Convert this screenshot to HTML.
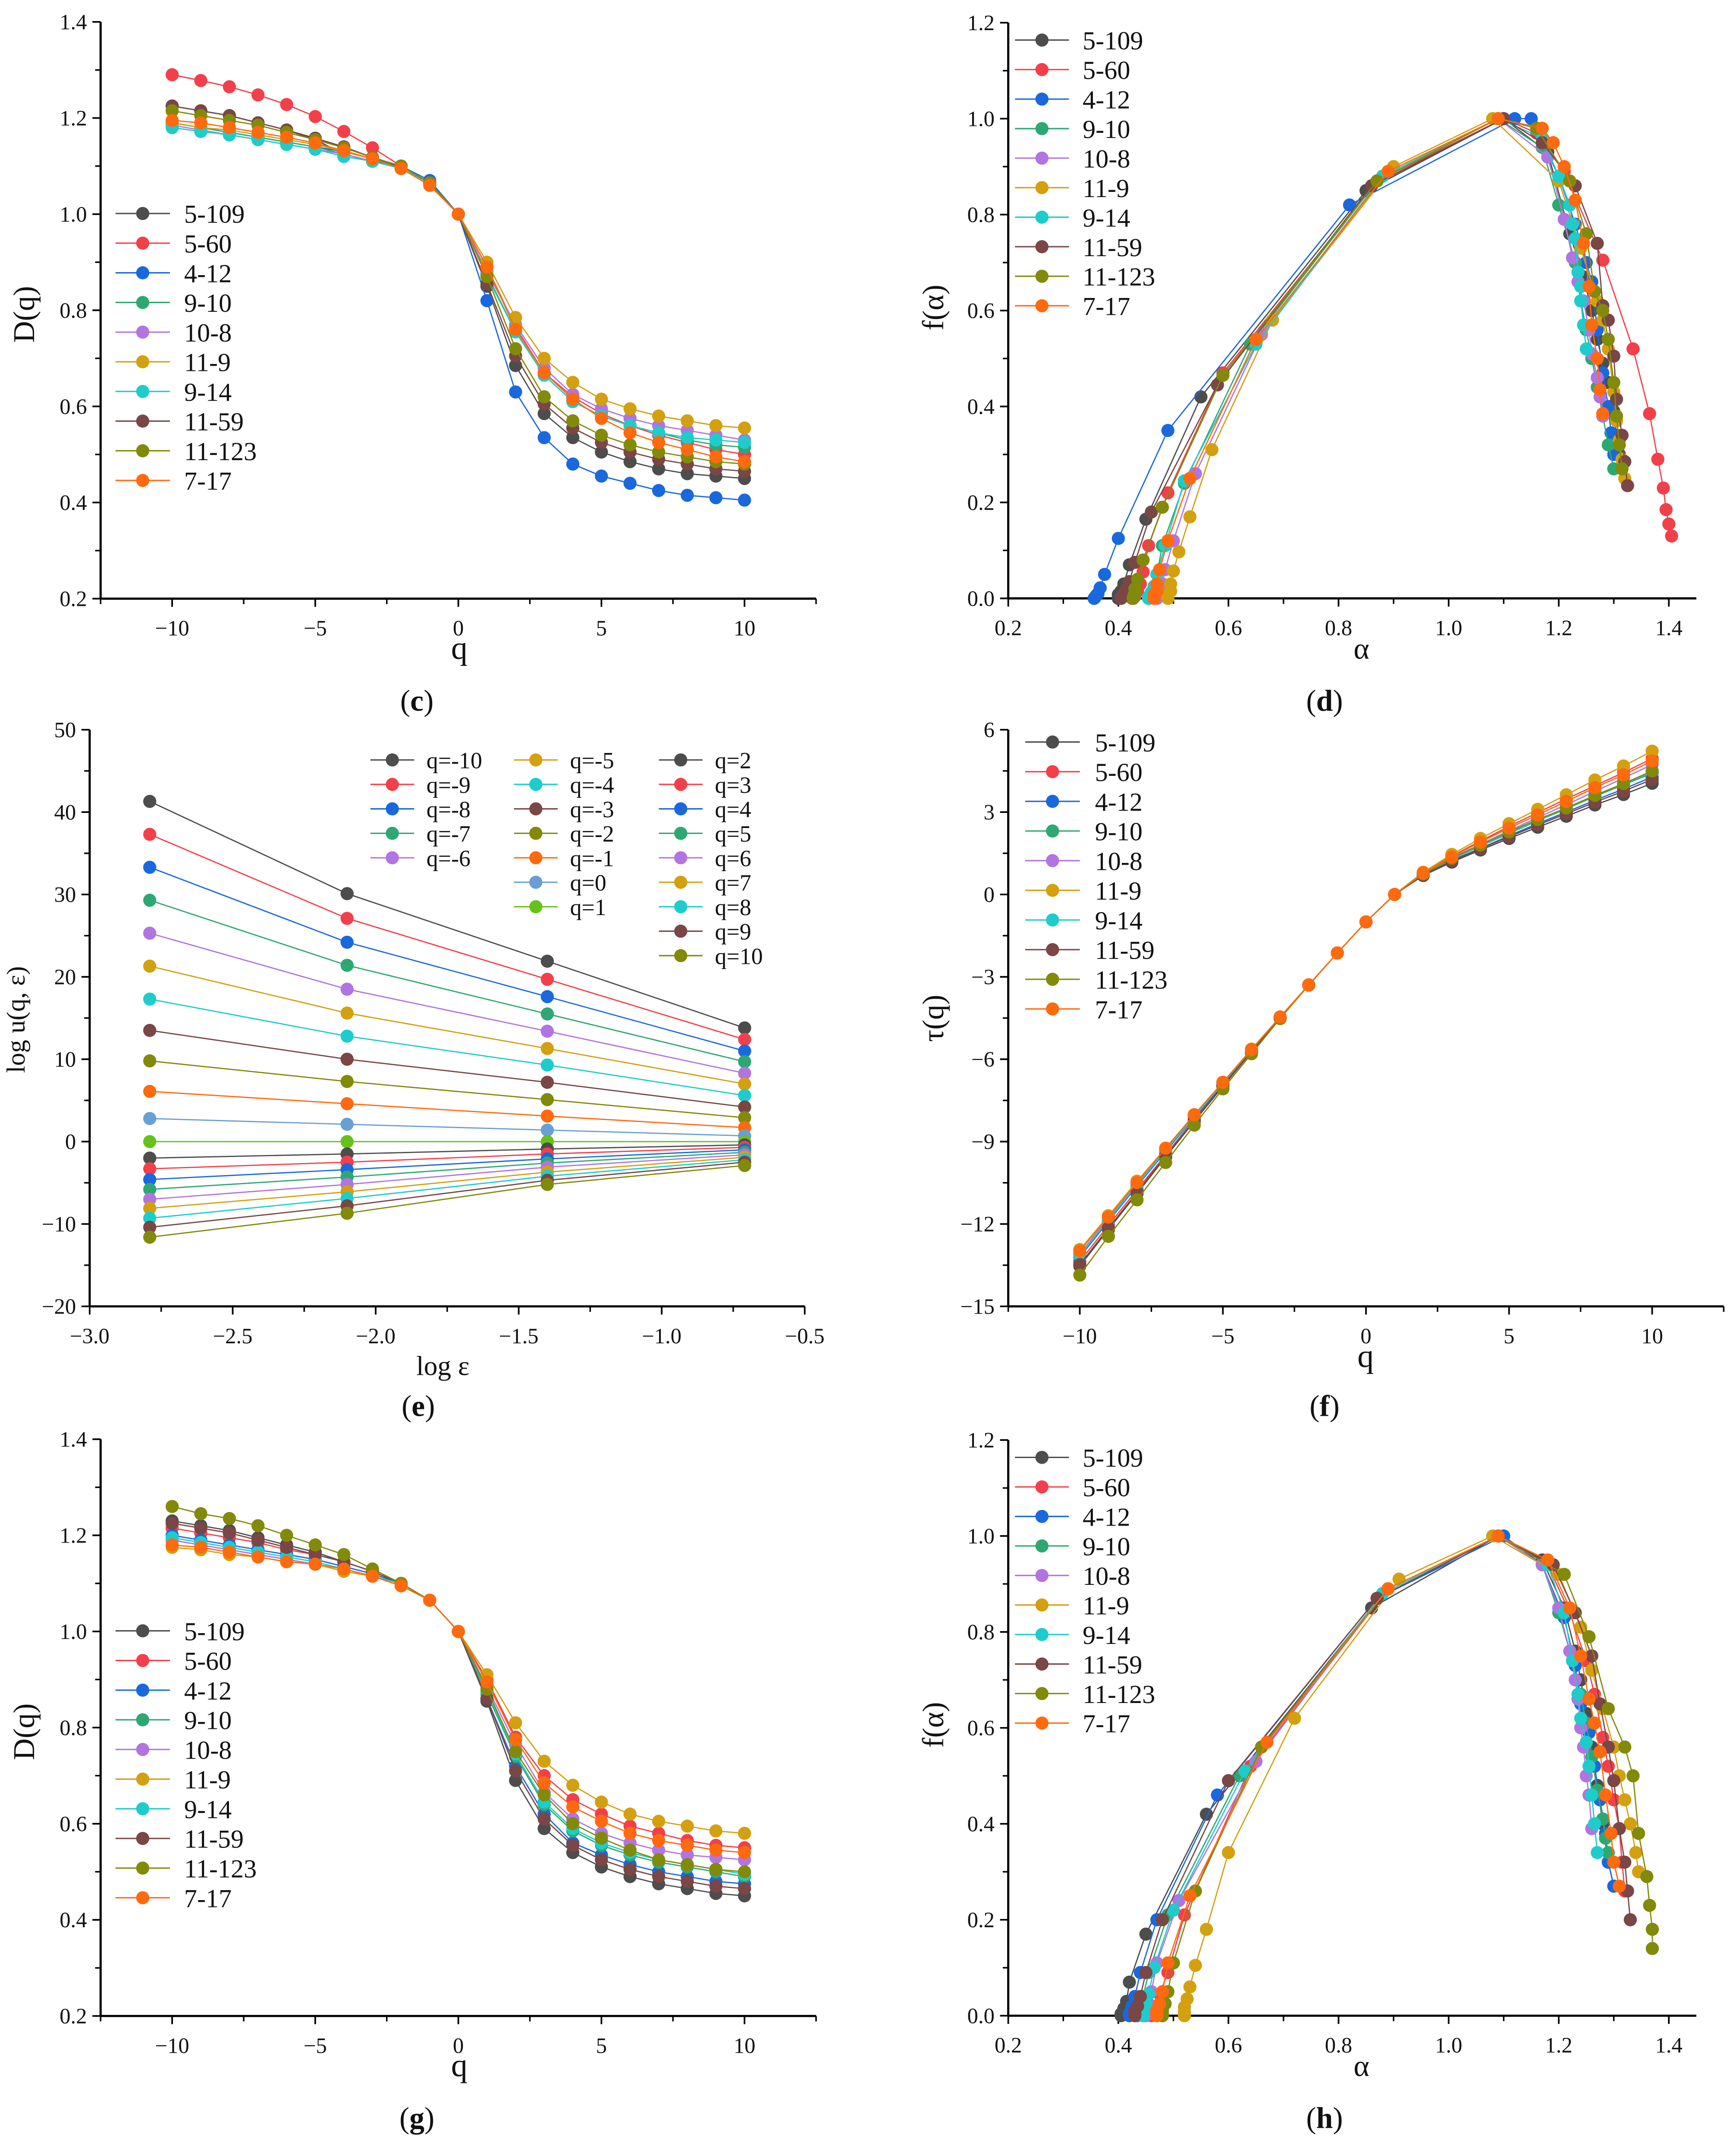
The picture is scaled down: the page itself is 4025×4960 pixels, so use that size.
<!DOCTYPE html>
<html>
<head>
<meta charset="utf-8">
<style>
html,body{margin:0;padding:0;background:#fff;}
svg{display:block;}
text{font-family:"Liberation Serif","Noto Serif CJK SC",serif;fill:#111;}
</style>
</head>
<body>
<svg id="fig" xmlns="http://www.w3.org/2000/svg" width="4025" height="4960" viewBox="0 0 1270 1565"></svg>
<script>
// ---------- DATA ----------
const seriesNames = ["5-109","5-60","4-12","9-10","10-8","11-9","9-14","11-59","11-123","7-17"];
const seriesColors = ["#4d4d4d","#f2404a","#1a68dd","#2ea872","#b274e0","#d3a010","#1ecccc","#7a4646","#828a0a","#ff6a0e"];
const qVals = [-10,-9,-8,-7,-6,-5,-4,-3,-2,-1,0,1,2,3,4,5,6,7,8,9,10];

// Panel (c): D(q)
const dqC = [
 [1.225,1.215,1.205,1.19,1.175,1.155,1.125,1.11,1.10,1.065,1.0,0.85,0.685,0.585,0.535,0.505,0.485,0.47,0.46,0.455,0.45],
 [1.29,1.278,1.265,1.248,1.228,1.203,1.172,1.138,1.10,1.065,1.0,0.89,0.765,0.67,0.62,0.585,0.56,0.54,0.525,0.51,0.50],
 [1.19,1.18,1.17,1.16,1.15,1.14,1.13,1.115,1.10,1.07,1.0,0.82,0.63,0.535,0.48,0.455,0.44,0.425,0.415,0.41,0.405],
 [1.19,1.18,1.17,1.16,1.15,1.14,1.125,1.11,1.095,1.065,1.0,0.875,0.755,0.665,0.61,0.58,0.56,0.545,0.53,0.52,0.515],
 [1.185,1.175,1.165,1.155,1.145,1.135,1.125,1.11,1.095,1.065,1.0,0.88,0.77,0.68,0.625,0.595,0.575,0.56,0.55,0.54,0.53],
 [1.19,1.18,1.175,1.165,1.155,1.145,1.13,1.115,1.095,1.06,1.0,0.90,0.785,0.70,0.65,0.615,0.595,0.58,0.57,0.56,0.555],
 [1.18,1.172,1.165,1.155,1.145,1.135,1.12,1.11,1.095,1.065,1.0,0.87,0.755,0.665,0.61,0.58,0.56,0.545,0.535,0.53,0.525],
 [1.225,1.215,1.205,1.19,1.175,1.158,1.14,1.118,1.10,1.065,1.0,0.855,0.705,0.605,0.555,0.525,0.505,0.49,0.48,0.47,0.465],
 [1.215,1.205,1.195,1.185,1.17,1.155,1.138,1.118,1.10,1.065,1.0,0.87,0.72,0.62,0.57,0.54,0.52,0.505,0.495,0.485,0.48],
 [1.195,1.19,1.18,1.17,1.16,1.148,1.132,1.115,1.095,1.06,1.0,0.89,0.76,0.67,0.615,0.575,0.545,0.525,0.51,0.495,0.485]
];
// Panel (g): D(q)
const dqG = [
 [1.23,1.22,1.21,1.195,1.18,1.165,1.145,1.125,1.10,1.065,1.0,0.855,0.69,0.59,0.54,0.51,0.49,0.475,0.465,0.455,0.45],
 [1.215,1.205,1.195,1.185,1.17,1.16,1.145,1.125,1.10,1.065,1.0,0.90,0.78,0.70,0.65,0.62,0.595,0.58,0.565,0.555,0.55],
 [1.20,1.19,1.18,1.17,1.16,1.15,1.135,1.12,1.10,1.065,1.0,0.86,0.72,0.62,0.56,0.535,0.515,0.50,0.49,0.48,0.475],
 [1.19,1.18,1.17,1.16,1.15,1.14,1.13,1.115,1.10,1.065,1.0,0.87,0.74,0.64,0.585,0.555,0.535,0.52,0.51,0.50,0.49],
 [1.19,1.18,1.17,1.16,1.15,1.14,1.13,1.115,1.10,1.065,1.0,0.885,0.765,0.665,0.61,0.58,0.56,0.545,0.535,0.53,0.525],
 [1.175,1.17,1.16,1.155,1.145,1.14,1.125,1.115,1.095,1.065,1.0,0.91,0.81,0.73,0.68,0.645,0.62,0.605,0.595,0.585,0.58],
 [1.195,1.185,1.175,1.165,1.155,1.145,1.13,1.115,1.10,1.065,1.0,0.875,0.745,0.645,0.59,0.56,0.54,0.525,0.515,0.505,0.495],
 [1.225,1.215,1.205,1.19,1.175,1.16,1.145,1.125,1.10,1.065,1.0,0.86,0.71,0.61,0.555,0.525,0.505,0.49,0.48,0.47,0.465],
 [1.26,1.245,1.235,1.22,1.20,1.18,1.16,1.13,1.10,1.065,1.0,0.88,0.75,0.66,0.60,0.57,0.545,0.525,0.515,0.505,0.50],
 [1.18,1.175,1.165,1.155,1.145,1.14,1.13,1.115,1.095,1.065,1.0,0.895,0.775,0.685,0.635,0.605,0.58,0.565,0.555,0.545,0.54]
];
// Panel (f): tau(q)
const tauF = [
 [-13.53,-12.2,-10.89,-9.56,-8.26,-6.99,-5.73,-4.5,-3.3,-2.13,-1,0,0.69,1.18,1.62,2.04,2.45,2.85,3.26,3.64,4.05],
 [-13.37,-12.05,-10.76,-9.48,-8.19,-6.96,-5.73,-4.5,-3.3,-2.13,-1,0,0.78,1.4,1.95,2.48,2.98,3.48,3.96,4.44,4.95],
 [-13.2,-11.9,-10.62,-9.36,-8.12,-6.9,-5.68,-4.48,-3.3,-2.13,-1,0,0.72,1.24,1.68,2.14,2.58,3.0,3.43,3.84,4.28],
 [-13.09,-11.8,-10.53,-9.28,-8.05,-6.84,-5.65,-4.46,-3.3,-2.13,-1,0,0.74,1.28,1.76,2.22,2.68,3.12,3.57,4.0,4.41],
 [-13.09,-11.8,-10.53,-9.28,-8.05,-6.84,-5.65,-4.46,-3.3,-2.13,-1,0,0.77,1.33,1.83,2.32,2.8,3.27,3.75,4.24,4.73],
 [-12.93,-11.7,-10.44,-9.24,-8.02,-6.84,-5.63,-4.46,-3.29,-2.13,-1,0,0.81,1.46,2.04,2.58,3.1,3.63,4.17,4.68,5.22],
 [-13.15,-11.85,-10.58,-9.32,-8.09,-6.87,-5.65,-4.46,-3.3,-2.13,-1,0,0.75,1.29,1.77,2.24,2.7,3.15,3.61,4.04,4.46],
 [-13.48,-12.15,-10.85,-9.52,-8.23,-6.96,-5.73,-4.5,-3.3,-2.13,-1,0,0.71,1.22,1.67,2.1,2.53,2.94,3.36,3.76,4.19],
 [-13.86,-12.45,-11.12,-9.76,-8.4,-7.08,-5.8,-4.52,-3.3,-2.13,-1,0,0.75,1.32,1.8,2.28,2.73,3.15,3.61,4.04,4.5],
 [-12.98,-11.75,-10.49,-9.24,-8.02,-6.84,-5.65,-4.46,-3.29,-2.13,-1,0,0.78,1.37,1.91,2.42,2.9,3.39,3.89,4.36,4.86]
];
// Panel (d): alpha and f(alpha)
const alphaD = [
 [1.31,1.305,1.30,1.29,1.28,1.27,1.26,1.245,1.22,1.18,1.10,0.85,0.55,0.45,0.42,0.41,0.405,0.40,0.40,0.40,0.40],
 [1.405,1.40,1.395,1.39,1.38,1.365,1.335,1.28,1.21,1.16,1.10,0.87,0.59,0.49,0.455,0.445,0.44,0.435,0.43,0.43,0.425],
 [1.30,1.295,1.29,1.28,1.27,1.26,1.25,1.23,1.20,1.15,1.12,0.82,0.49,0.40,0.375,0.367,0.363,0.36,0.358,0.357,0.356],
 [1.30,1.29,1.28,1.27,1.26,1.25,1.24,1.23,1.20,1.17,1.09,0.87,0.64,0.52,0.48,0.47,0.465,0.46,0.46,0.455,0.455],
 [1.28,1.275,1.27,1.26,1.255,1.245,1.235,1.225,1.21,1.18,1.09,0.88,0.66,0.54,0.50,0.485,0.48,0.475,0.475,0.47,0.47],
 [1.32,1.315,1.31,1.305,1.30,1.29,1.28,1.27,1.24,1.20,1.08,0.90,0.68,0.57,0.53,0.51,0.50,0.495,0.495,0.49,0.49],
 [1.25,1.245,1.24,1.24,1.235,1.23,1.225,1.22,1.20,1.17,1.09,0.88,0.65,0.52,0.485,0.47,0.465,0.46,0.46,0.455,0.455],
 [1.325,1.32,1.315,1.305,1.30,1.29,1.28,1.27,1.23,1.17,1.10,0.86,0.58,0.46,0.43,0.42,0.415,0.41,0.41,0.405,0.405],
 [1.315,1.31,1.305,1.30,1.29,1.28,1.265,1.25,1.22,1.16,1.09,0.87,0.59,0.48,0.445,0.435,0.43,0.43,0.428,0.428,0.427],
 [1.28,1.275,1.27,1.26,1.255,1.245,1.23,1.21,1.19,1.17,1.09,0.89,0.65,0.53,0.49,0.475,0.47,0.47,0.465,0.465,0.465]
];
const fAlphaD = [
 [0.30,0.34,0.39,0.45,0.49,0.54,0.60,0.67,0.76,0.93,1.0,0.85,0.42,0.165,0.07,0.03,0.015,0.008,0.004,0.002,0],
 [0.13,0.155,0.185,0.23,0.29,0.385,0.52,0.705,0.89,0.97,1.0,0.87,0.47,0.22,0.11,0.055,0.03,0.015,0.008,0.004,0],
 [0.30,0.345,0.40,0.47,0.56,0.66,0.70,0.78,0.88,1.0,1.0,0.82,0.35,0.125,0.05,0.022,0.01,0.006,0.003,0.001,0],
 [0.27,0.32,0.38,0.44,0.50,0.56,0.62,0.70,0.82,0.94,1.0,0.87,0.53,0.24,0.11,0.05,0.025,0.012,0.006,0.003,0],
 [0.38,0.42,0.46,0.51,0.56,0.62,0.66,0.71,0.79,0.92,1.0,0.88,0.55,0.26,0.12,0.06,0.03,0.015,0.008,0.004,0],
 [0.25,0.29,0.33,0.37,0.43,0.52,0.58,0.62,0.73,0.87,1.0,0.90,0.58,0.31,0.17,0.097,0.057,0.03,0.015,0.007,0],
 [0.52,0.57,0.62,0.65,0.68,0.75,0.78,0.82,0.88,0.96,1.0,0.88,0.53,0.245,0.11,0.05,0.025,0.012,0.006,0.003,0],
 [0.235,0.285,0.34,0.415,0.505,0.58,0.61,0.74,0.86,0.95,1.0,0.86,0.445,0.18,0.075,0.035,0.02,0.01,0.005,0.002,0],
 [0.27,0.32,0.38,0.45,0.54,0.60,0.64,0.76,0.87,0.98,1.0,0.87,0.465,0.19,0.08,0.04,0.02,0.01,0.005,0.002,0],
 [0.385,0.435,0.50,0.57,0.65,0.74,0.83,0.90,0.95,0.98,1.0,0.89,0.54,0.25,0.12,0.06,0.03,0.015,0.008,0.004,0]
];
// Panel (h): alpha and f(alpha)
const alphaH = [
 [1.30,1.29,1.28,1.27,1.26,1.25,1.24,1.23,1.21,1.17,1.09,0.86,0.56,0.45,0.42,0.415,0.41,0.41,0.405,0.405,0.405],
 [1.32,1.315,1.31,1.30,1.29,1.28,1.265,1.25,1.22,1.18,1.09,0.89,0.64,0.52,0.49,0.475,0.47,0.465,0.46,0.46,0.46],
 [1.30,1.29,1.285,1.275,1.265,1.255,1.24,1.23,1.21,1.17,1.10,0.87,0.58,0.47,0.44,0.43,0.425,0.425,0.42,0.42,0.42],
 [1.29,1.285,1.28,1.27,1.26,1.25,1.24,1.225,1.20,1.17,1.09,0.88,0.62,0.49,0.455,0.445,0.44,0.435,0.435,0.435,0.435],
 [1.26,1.255,1.25,1.245,1.24,1.235,1.23,1.22,1.20,1.17,1.09,0.88,0.65,0.51,0.47,0.46,0.455,0.45,0.45,0.45,0.45],
 [1.345,1.34,1.33,1.32,1.31,1.30,1.28,1.26,1.24,1.20,1.08,0.91,0.72,0.60,0.56,0.54,0.53,0.525,0.52,0.52,0.52],
 [1.27,1.265,1.26,1.255,1.25,1.24,1.235,1.225,1.21,1.18,1.09,0.88,0.63,0.50,0.465,0.455,0.45,0.445,0.445,0.445,0.445],
 [1.33,1.325,1.32,1.31,1.30,1.29,1.275,1.26,1.23,1.19,1.09,0.87,0.60,0.48,0.45,0.44,0.435,0.43,0.43,0.43,0.43],
 [1.37,1.37,1.365,1.36,1.345,1.335,1.32,1.29,1.255,1.21,1.09,0.89,0.66,0.54,0.50,0.49,0.485,0.48,0.48,0.48,0.48],
 [1.31,1.30,1.295,1.285,1.275,1.265,1.255,1.24,1.22,1.18,1.09,0.89,0.67,0.53,0.49,0.48,0.475,0.47,0.47,0.47,0.47]
];
const fAlphaH = [
 [0.27,0.32,0.40,0.48,0.56,0.63,0.70,0.76,0.85,0.95,1.0,0.85,0.42,0.17,0.07,0.03,0.015,0.008,0.004,0.002,0],
 [0.26,0.32,0.39,0.45,0.52,0.58,0.67,0.74,0.84,0.94,1.0,0.89,0.52,0.21,0.09,0.045,0.02,0.01,0.005,0.002,0],
 [0.27,0.32,0.38,0.45,0.52,0.59,0.65,0.73,0.83,0.94,1.0,0.87,0.46,0.2,0.09,0.04,0.02,0.01,0.005,0.002,0],
 [0.34,0.37,0.41,0.47,0.54,0.61,0.67,0.74,0.84,0.94,1.0,0.88,0.50,0.21,0.09,0.04,0.02,0.01,0.005,0.002,0],
 [0.39,0.46,0.50,0.56,0.60,0.66,0.70,0.76,0.85,0.94,1.0,0.88,0.53,0.24,0.11,0.05,0.025,0.012,0.006,0.003,0],
 [0.30,0.34,0.40,0.45,0.50,0.56,0.64,0.72,0.81,0.92,1.0,0.91,0.62,0.34,0.18,0.105,0.06,0.035,0.018,0.008,0],
 [0.34,0.40,0.46,0.52,0.57,0.62,0.67,0.74,0.84,0.94,1.0,0.88,0.51,0.22,0.1,0.045,0.022,0.011,0.005,0.002,0],
 [0.20,0.26,0.32,0.39,0.49,0.56,0.65,0.75,0.84,0.94,1.0,0.87,0.49,0.2,0.09,0.04,0.02,0.01,0.005,0.002,0],
 [0.14,0.18,0.23,0.29,0.38,0.50,0.56,0.64,0.79,0.92,1.0,0.89,0.56,0.26,0.11,0.05,0.025,0.012,0.006,0.003,0],
 [0.27,0.32,0.38,0.46,0.55,0.61,0.66,0.75,0.85,0.95,1.0,0.89,0.57,0.25,0.11,0.05,0.025,0.012,0.006,0.003,0]
];
// Panel (e): log u(q, eps)
const logEps = [-2.79,-2.10,-1.40,-0.71];
const eQLabels = ["q=-10","q=-9","q=-8","q=-7","q=-6","q=-5","q=-4","q=-3","q=-2","q=-1","q=0","q=1","q=2","q=3","q=4","q=5","q=6","q=7","q=8","q=9","q=10"];
const eColors = ["#4d4d4d","#f2404a","#1a68dd","#2ea872","#b274e0","#d3a010","#1ecccc","#7a4646","#828a0a","#ff6a0e","#6a9fd4","#66c21a","#4d4d4d","#f2404a","#1a68dd","#2ea872","#b274e0","#d3a010","#1ecccc","#7a4646","#828a0a"];
const logU = [
 [41.3,30.1,21.9,13.8],[37.3,27.1,19.7,12.4],[33.3,24.2,17.6,11.0],[29.3,21.4,15.5,9.7],
 [25.3,18.5,13.4,8.3],[21.3,15.6,11.3,7.0],[17.3,12.8,9.3,5.6],[13.5,10.0,7.2,4.2],
 [9.8,7.3,5.1,2.9],[6.1,4.6,3.1,1.7],[2.8,2.1,1.4,0.7],[0,0,0,0],
 [-2.0,-1.5,-0.9,-0.4],[-3.3,-2.5,-1.5,-0.7],[-4.6,-3.4,-2.1,-1.0],[-5.8,-4.3,-2.6,-1.3],
 [-7.0,-5.2,-3.1,-1.6],[-8.1,-6.1,-3.7,-1.9],[-9.3,-6.9,-4.2,-2.2],[-10.4,-7.8,-4.7,-2.5],[-11.6,-8.7,-5.2,-2.9]
];
// Tick labels
const qTicks = [-10,-5,0,5,10];
const qMinor = [-12.5,-7.5,-2.5,2.5,7.5,12.5];
const dTicks = [0.2,0.4,0.6,0.8,1.0,1.2,1.4];
const dMinor = [0.3,0.5,0.7,0.9,1.1,1.3];
const alphaTicks = [0.2,0.4,0.6,0.8,1.0,1.2,1.4];
const alphaMinor = [0.3,0.5,0.7,0.9,1.1,1.3];
const fTicks = [0,0.2,0.4,0.6,0.8,1.0,1.2];
const fMinor = [0.1,0.3,0.5,0.7,0.9,1.1];
const epsTicks = [-3.0,-2.5,-2.0,-1.5,-1.0,-0.5];
const epsMinor = [-2.75,-2.25,-1.75,-1.25,-0.75];
const uTicks = [-20,-10,0,10,20,30,40,50];
const uMinor = [-15,-5,5,15,25,35,45];
const tauTicks = [-15,-12,-9,-6,-3,0,3,6];
const tauMinor = [-13.5,-10.5,-7.5,-4.5,-1.5,1.5,4.5];

// ---------- DRAWING ----------
const NS = "http://www.w3.org/2000/svg";
const svg = document.getElementById("fig");
function el(tag, attrs, parent){
  const e = document.createElementNS(NS, tag);
  for (const k in attrs) e.setAttribute(k, attrs[k]);
  parent.appendChild(e);
  return e;
}
function fmt(v, dec){ const s = v.toFixed(dec); return s.replace("-", "\u2212"); }

function makeAxes(p){
  const g = el("g", {}, svg);
  
  
  p.sx = v => p.x0 + (v - p.xmin) / (p.xmax - p.xmin) * (p.x1 - p.x0);
  p.sy = v => p.yb - (v - p.ymin) / (p.ymax - p.ymin) * (p.yb - p.yt);
  const xa = el("line", {x1:p.x0, y1:p.yb, x2:p.x1, y2:p.yb, stroke:"#000", "stroke-width":1.6}, g);
  
  
  const ya = el("line", {x1:p.x0, y1:p.yb, x2:p.x0, y2:p.yt, stroke:"#000", "stroke-width":1.6}, g);
  
  
  p.xt.forEach(v => {
    const x = p.sx(v);
    el("line", {x1:x, y1:p.yb, x2:x, y2:p.yb+6, stroke:"#000", "stroke-width":1.2}, g);
    const t = el("text", {x:x, y:p.yb+27, "text-anchor":"middle", "font-size":16}, g);
    t.textContent = fmt(v, p.xdec);
    
    
  });
  p.xm.forEach(v => {
    const x = p.sx(v);
    el("line", {x1:x, y1:p.yb, x2:x, y2:p.yb+4, stroke:"#000", "stroke-width":1.1}, g);
  });
  p.yt2.forEach(v => {
    const y = p.sy(v);
    el("line", {x1:p.x0-6, y1:y, x2:p.x0, y2:y, stroke:"#000", "stroke-width":1.2}, g);
    const t = el("text", {x:p.x0-10, y:y+5.5, "text-anchor":"end", "font-size":16}, g);
    t.textContent = fmt(v, p.ydec);
    
    
  });
  p.ym.forEach(v => {
    const y = p.sy(v);
    el("line", {x1:p.x0-4, y1:y, x2:p.x0, y2:y, stroke:"#000", "stroke-width":1.1}, g);
  });
  p.g = g;
  return p;
}
function drawSeries(p, xs, ys, color, name){
  const g = el("g", {}, p.g);
  
  
  const pts = xs.map((x,i) => p.sx(x).toFixed(2) + "," + p.sy(ys[i]).toFixed(2)).join(" ");
  const pl = el("polyline", {points:pts, fill:"none", stroke:color, "stroke-width":0.9}, g);
  
  
  xs.forEach((x,i) => {
    const c = el("circle", {cx:p.sx(x), cy:p.sy(ys[i]), r:4.8, fill:color}, g);
    
    
  });
}
function legend(parent, lx0, lx1, tx, y0, step, names, colors, fs, cols){
  const g = el("g", {}, parent);
  
  
  names.forEach((n,i) => {
    const col = cols ? cols[i][0] : 0;
    const row = cols ? cols[i][1] : i;
    const y = y0 + row * step;
    const e = el("g", {}, g);
    
    
    el("line", {x1:lx0+col, y1:y, x2:lx1+col, y2:y, stroke:colors[i], "stroke-width":1}, e);
    el("circle", {cx:(lx0+lx1)/2+col, cy:y, r:4.8, fill:colors[i]}, e);
    const t = el("text", {x:tx+col, y:y+fs*0.36, "font-size":fs}, e);
    t.textContent = n;
  });
}
function label(txt, x, y, fs, rot, name, bold){
  const t = el("text", {x:x, y:y, "text-anchor":"middle", "font-size":fs}, svg);
  if (rot) t.setAttribute("transform", "rotate(-90 " + x + " " + y + ")");
  if (bold) t.setAttribute("font-weight", "bold");
  t.textContent = txt;
  
  
  return t;
}
function subLabel(letter, x, y, name){
  const t = el("text", {x:x, y:y, "text-anchor":"middle", "font-size":22}, svg);
  
  
  const a = el("tspan", {}, t); a.textContent = "(";
  const b = el("tspan", {"font-weight":"bold"}, t); b.textContent = letter;
  const c = el("tspan", {}, t); c.textContent = ")";
}

// Panel c
const pc = makeAxes({name:"panel-c", x0:73.6, x1:597, xmin:-12.5, xmax:12.5, yb:438, yt:16, ymin:0.2, ymax:1.4,
  xt:qTicks, xm:qMinor, yt2:dTicks, ym:dMinor, xdec:0, ydec:1});
dqC.forEach((ys,i) => drawSeries(pc, qVals, ys, seriesColors[i], seriesNames[i]));
legend(pc.g, 84.5, 124.3, 134.7, 156.2, 21.7, seriesNames, seriesColors, 19);
label("D(q)", 25, 230, 22, true, "y-axis-title");
label("q", 336, 482, 24, false, "x-axis-title");
subLabel("c", 305, 520, "subfigure-label-c");

// Panel d
const pd = makeAxes({name:"panel-d", x0:737.6, x1:1241, xmin:0.2, xmax:1.45, yb:437.8, yt:16.6, ymin:0, ymax:1.2,
  xt:alphaTicks, xm:alphaMinor, yt2:fTicks, ym:fMinor, xdec:1, ydec:1});
alphaD.forEach((xs,i) => drawSeries(pd, xs, fAlphaD[i], seriesColors[i], seriesNames[i]));
legend(pd.g, 742.5, 782, 792, 29.3, 21.6, seriesNames, seriesColors, 19);
label("f(α)", 690, 225, 22, true, "y-axis-title");
label("α", 996, 482, 22, false, "x-axis-title");
subLabel("d", 969, 520, "subfigure-label-d");

// Panel e
const pe = makeAxes({name:"panel-e", x0:65.6, x1:588.7, xmin:-3.0, xmax:-0.5, yb:955.8, yt:533.9, ymin:-20, ymax:50,
  xt:epsTicks, xm:epsMinor, yt2:uTicks, ym:uMinor, xdec:1, ydec:0});
logU.forEach((ys,i) => drawSeries(pe, logEps, ys, eColors[i], eQLabels[i]));
const ePos = eQLabels.map((n,i) => i < 5 ? [0,i] : (i < 12 ? [105,i-5] : [211,i-12]));
legend(pe.g, 271, 303, 312, 556, 17.9, eQLabels, eColors, 17, ePos);
label("log u(q, ε)", 18, 746, 19, true, "y-axis-title");
label("log ε", 324, 1006, 20, false, "x-axis-title");
subLabel("e", 306, 1036, "subfigure-label-e");

// Panel f
const pf = makeAxes({name:"panel-f", x0:737.6, x1:1261, xmin:-12.5, xmax:12.5, yb:955.8, yt:533.9, ymin:-15, ymax:6,
  xt:qTicks, xm:qMinor, yt2:tauTicks, ym:tauMinor, xdec:0, ydec:0});
tauF.forEach((ys,i) => drawSeries(pf, qVals, ys, seriesColors[i], seriesNames[i]));
legend(pf.g, 750, 790, 801, 542.9, 21.7, seriesNames, seriesColors, 19);
label("τ(q)", 690, 745, 22, true, "y-axis-title");
label("q", 999, 1000, 24, false, "x-axis-title");
subLabel("f", 969, 1036, "subfigure-label-f");

// Panel g
const pg = makeAxes({name:"panel-g", x0:73.6, x1:597, xmin:-12.5, xmax:12.5, yb:1475, yt:1053, ymin:0.2, ymax:1.4,
  xt:qTicks, xm:qMinor, yt2:dTicks, ym:dMinor, xdec:0, ydec:1});
dqG.forEach((ys,i) => drawSeries(pg, qVals, ys, seriesColors[i], seriesNames[i]));
legend(pg.g, 84.5, 124.3, 134.7, 1193.2, 21.7, seriesNames, seriesColors, 19);
label("D(q)", 25, 1267, 22, true, "y-axis-title");
label("q", 336, 1519, 24, false, "x-axis-title");
subLabel("g", 305, 1557, "subfigure-label-g");

// Panel h
const ph = makeAxes({name:"panel-h", x0:737.6, x1:1241, xmin:0.2, xmax:1.45, yb:1474.8, yt:1053.6, ymin:0, ymax:1.2,
  xt:alphaTicks, xm:alphaMinor, yt2:fTicks, ym:fMinor, xdec:1, ydec:1});
alphaH.forEach((xs,i) => drawSeries(ph, xs, fAlphaH[i], seriesColors[i], seriesNames[i]));
legend(ph.g, 742.5, 782, 792, 1066.3, 21.6, seriesNames, seriesColors, 19);
label("f(α)", 690, 1262, 22, true, "y-axis-title");
label("α", 996, 1519, 22, false, "x-axis-title");
subLabel("h", 969, 1557, "subfigure-label-h");
</script>
</body>
</html>
